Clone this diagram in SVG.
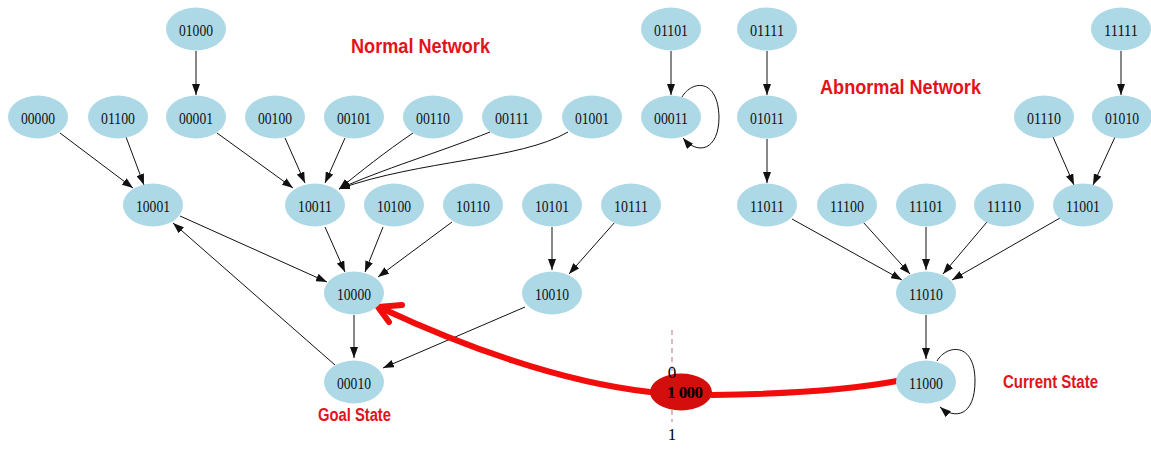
<svg xmlns="http://www.w3.org/2000/svg" width="1151" height="468" viewBox="0 0 1151 468">
<defs>
<style>
.n ellipse{fill:#add8e6;stroke:none}
.n text{font-family:"Liberation Serif",serif;font-size:17.5px;fill:#111;text-anchor:middle}
.e{stroke:#111;stroke-width:1;fill:none;marker-end:url(#ah)}
.lbl{font-family:"Liberation Sans",Arial,sans-serif;font-weight:bold;fill:#e3121b}
.sw{font-family:"Liberation Serif",serif;font-size:17px;fill:#000;text-anchor:middle}
</style>
<marker id="ah" markerUnits="userSpaceOnUse" markerWidth="11" markerHeight="8" refX="11" refY="4" orient="auto">
<path d="M0,0 L11,4 L0,8 z" fill="#111"/>
</marker>
</defs>
<rect width="1151" height="468" fill="#fff"/>

<g id="connectors">
<line class="e" x1="196" y1="51" x2="196" y2="95"/>
<line class="e" x1="60" y1="133" x2="133" y2="188"/>
<line class="e" x1="126" y1="137" x2="144" y2="185"/>
<line class="e" x1="217" y1="133" x2="293" y2="188"/>
<line class="e" x1="285" y1="138" x2="305" y2="183"/>
<line class="e" x1="345" y1="138" x2="325" y2="183"/>
<path class="e" d="M413,133 C385,152 360,172 339,189"/>
<path class="e" d="M490,132 C440,152 380,170 339,189"/>
<path class="e" d="M568,132 C520,160 420,160 339,189"/>
<line class="e" x1="180" y1="216" x2="327" y2="282"/>
<line class="e" x1="335" y1="365" x2="173" y2="223"/>
<line class="e" x1="325" y1="227" x2="345" y2="272"/>
<line class="e" x1="383" y1="227" x2="365" y2="272"/>
<line class="e" x1="452" y1="222" x2="378" y2="277"/>
<line class="e" x1="354" y1="315" x2="354" y2="358"/>
<line class="e" x1="525" y1="307" x2="383" y2="368"/>
<line class="e" x1="552" y1="227" x2="552" y2="270"/>
<line class="e" x1="615" y1="222" x2="569" y2="274"/>
<line class="e" x1="671" y1="51" x2="671" y2="95"/>
<path class="e" d="M682,97 C692,80 718,78 719,117 C719,150 698,156 683,138"/>
<line class="e" x1="767" y1="51" x2="767" y2="95"/>
<line class="e" x1="767" y1="139" x2="767" y2="183"/>
<line class="e" x1="1121" y1="51" x2="1121" y2="95"/>
<line class="e" x1="1053" y1="137" x2="1074" y2="185"/>
<line class="e" x1="1115" y1="137" x2="1093" y2="185"/>
<line class="e" x1="792" y1="219" x2="902" y2="280"/>
<line class="e" x1="863" y1="222" x2="910" y2="274"/>
<line class="e" x1="926" y1="227" x2="926" y2="270"/>
<line class="e" x1="987" y1="222" x2="943" y2="274"/>
<line class="e" x1="1060" y1="218" x2="952" y2="280"/>
<line class="e" x1="926" y1="315" x2="926" y2="359"/>
<path class="e" d="M937,361 C947,344 975,342 975,381 C975,416 955,420 940,407"/>
</g>

<g id="red-path">
<line x1="672" y1="330" x2="672" y2="374" stroke="#c98a95" stroke-width="1.2" stroke-dasharray="5,4"/>
<line x1="672" y1="410" x2="672" y2="422" stroke="#c98a95" stroke-width="1.2" stroke-dasharray="5,4"/>
<path d="M712,395 C780,394 850,390 897,381" stroke="#f20d0d" stroke-width="6" fill="none" stroke-linecap="round"/>
<path d="M650,392 C560,382 460,345 381,308" stroke="#f20d0d" stroke-width="6" fill="none" stroke-linecap="round"/>
<path d="M402,305 L378,307 L389,322" stroke="#f20d0d" stroke-width="6" fill="none" stroke-linecap="round" stroke-linejoin="round"/>
</g>

<g id="n-switch">
<ellipse cx="681" cy="392" rx="31" ry="18.5" fill="#d40d0d"/>
<text class="sw" x="685" y="398" font-weight="bold" textLength="36" lengthAdjust="spacing">1 000</text>
<text class="sw" x="672" y="378">0</text>
<text class="sw" x="672" y="440">1</text>
</g>

<g id="n01000" class="n"><ellipse cx="196" cy="29" rx="30" ry="21.5"/><text x="196" y="36" textLength="34" lengthAdjust="spacingAndGlyphs">01000</text></g>
<g id="n01101" class="n"><ellipse cx="671" cy="29" rx="30" ry="21.5"/><text x="671" y="36" textLength="34" lengthAdjust="spacingAndGlyphs">01101</text></g>
<g id="n01111" class="n"><ellipse cx="767" cy="29" rx="30" ry="21.5"/><text x="767" y="36" textLength="34" lengthAdjust="spacingAndGlyphs">01111</text></g>
<g id="n11111" class="n"><ellipse cx="1121" cy="29" rx="30" ry="21.5"/><text x="1121" y="36" textLength="34" lengthAdjust="spacingAndGlyphs">11111</text></g>

<g id="n00000" class="n"><ellipse cx="38" cy="117" rx="30" ry="21.5"/><text x="38" y="124" textLength="34" lengthAdjust="spacingAndGlyphs">00000</text></g>
<g id="n01100" class="n"><ellipse cx="118" cy="117" rx="30" ry="21.5"/><text x="118" y="124" textLength="34" lengthAdjust="spacingAndGlyphs">01100</text></g>
<g id="n00001" class="n"><ellipse cx="196" cy="117" rx="30" ry="21.5"/><text x="196" y="124" textLength="34" lengthAdjust="spacingAndGlyphs">00001</text></g>
<g id="n00100" class="n"><ellipse cx="275" cy="117" rx="30" ry="21.5"/><text x="275" y="124" textLength="34" lengthAdjust="spacingAndGlyphs">00100</text></g>
<g id="n00101" class="n"><ellipse cx="354" cy="117" rx="30" ry="21.5"/><text x="354" y="124" textLength="34" lengthAdjust="spacingAndGlyphs">00101</text></g>
<g id="n00110" class="n"><ellipse cx="433" cy="117" rx="30" ry="21.5"/><text x="433" y="124" textLength="34" lengthAdjust="spacingAndGlyphs">00110</text></g>
<g id="n00111" class="n"><ellipse cx="512" cy="117" rx="30" ry="21.5"/><text x="512" y="124" textLength="34" lengthAdjust="spacingAndGlyphs">00111</text></g>
<g id="n01001" class="n"><ellipse cx="592" cy="117" rx="30" ry="21.5"/><text x="592" y="124" textLength="34" lengthAdjust="spacingAndGlyphs">01001</text></g>
<g id="n00011" class="n"><ellipse cx="671" cy="117" rx="30" ry="21.5"/><text x="671" y="124" textLength="34" lengthAdjust="spacingAndGlyphs">00011</text></g>
<g id="n01011" class="n"><ellipse cx="767" cy="117" rx="30" ry="21.5"/><text x="767" y="124" textLength="34" lengthAdjust="spacingAndGlyphs">01011</text></g>
<g id="n01110" class="n"><ellipse cx="1044" cy="117" rx="30" ry="21.5"/><text x="1044" y="124" textLength="34" lengthAdjust="spacingAndGlyphs">01110</text></g>
<g id="n01010" class="n"><ellipse cx="1122" cy="117" rx="30" ry="21.5"/><text x="1122" y="124" textLength="34" lengthAdjust="spacingAndGlyphs">01010</text></g>

<g id="n10001" class="n"><ellipse cx="153" cy="205" rx="30" ry="21.5"/><text x="153" y="212" textLength="34" lengthAdjust="spacingAndGlyphs">10001</text></g>
<g id="n10011" class="n"><ellipse cx="315" cy="205" rx="30" ry="21.5"/><text x="315" y="212" textLength="34" lengthAdjust="spacingAndGlyphs">10011</text></g>
<g id="n10100" class="n"><ellipse cx="394" cy="205" rx="30" ry="21.5"/><text x="394" y="212" textLength="34" lengthAdjust="spacingAndGlyphs">10100</text></g>
<g id="n10110" class="n"><ellipse cx="473" cy="205" rx="30" ry="21.5"/><text x="473" y="212" textLength="34" lengthAdjust="spacingAndGlyphs">10110</text></g>
<g id="n10101" class="n"><ellipse cx="552" cy="205" rx="30" ry="21.5"/><text x="552" y="212" textLength="34" lengthAdjust="spacingAndGlyphs">10101</text></g>
<g id="n10111" class="n"><ellipse cx="631" cy="205" rx="30" ry="21.5"/><text x="631" y="212" textLength="34" lengthAdjust="spacingAndGlyphs">10111</text></g>
<g id="n11011" class="n"><ellipse cx="767" cy="205" rx="30" ry="21.5"/><text x="767" y="212" textLength="34" lengthAdjust="spacingAndGlyphs">11011</text></g>
<g id="n11100" class="n"><ellipse cx="847" cy="205" rx="30" ry="21.5"/><text x="847" y="212" textLength="34" lengthAdjust="spacingAndGlyphs">11100</text></g>
<g id="n11101" class="n"><ellipse cx="926" cy="205" rx="30" ry="21.5"/><text x="926" y="212" textLength="34" lengthAdjust="spacingAndGlyphs">11101</text></g>
<g id="n11110" class="n"><ellipse cx="1004" cy="205" rx="30" ry="21.5"/><text x="1004" y="212" textLength="34" lengthAdjust="spacingAndGlyphs">11110</text></g>
<g id="n11001" class="n"><ellipse cx="1083" cy="205" rx="30" ry="21.5"/><text x="1083" y="212" textLength="34" lengthAdjust="spacingAndGlyphs">11001</text></g>

<g id="n10000" class="n"><ellipse cx="354" cy="293" rx="30" ry="21.5"/><text x="354" y="300" textLength="34" lengthAdjust="spacingAndGlyphs">10000</text></g>
<g id="n10010" class="n"><ellipse cx="552" cy="293" rx="30" ry="21.5"/><text x="552" y="300" textLength="34" lengthAdjust="spacingAndGlyphs">10010</text></g>
<g id="n11010" class="n"><ellipse cx="926" cy="293" rx="30" ry="21.5"/><text x="926" y="300" textLength="34" lengthAdjust="spacingAndGlyphs">11010</text></g>

<g id="n00010" class="n"><ellipse cx="354" cy="382" rx="30" ry="21.5"/><text x="354" y="389" textLength="34" lengthAdjust="spacingAndGlyphs">00010</text></g>
<g id="n11000" class="n"><ellipse cx="926" cy="382" rx="30" ry="21.5"/><text x="926" y="389" textLength="34" lengthAdjust="spacingAndGlyphs">11000</text></g>

<g id="labels">
<text class="lbl" x="351" y="53" font-size="21" textLength="139" lengthAdjust="spacingAndGlyphs">Normal Network</text>
<text class="lbl" x="820" y="94" font-size="20" textLength="161" lengthAdjust="spacingAndGlyphs">Abnormal Network</text>
<text class="lbl" x="318" y="421" font-size="17.5" textLength="73" lengthAdjust="spacingAndGlyphs">Goal State</text>
<text class="lbl" x="1003" y="388" font-size="17.5" textLength="95" lengthAdjust="spacingAndGlyphs">Current State</text>
</g>
</svg>
